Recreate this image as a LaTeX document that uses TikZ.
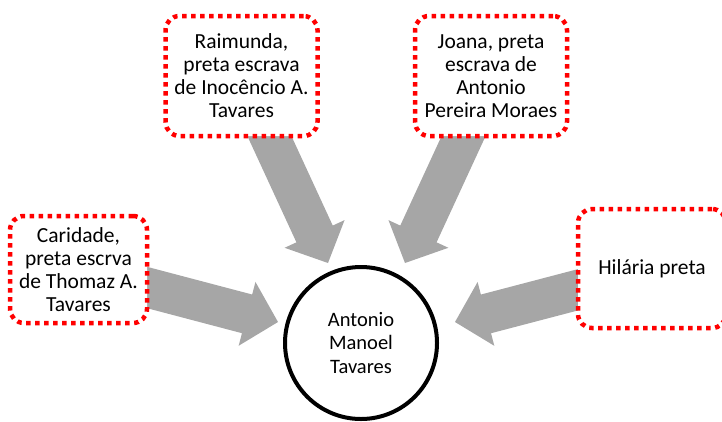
\documentclass[tikz,border=0pt]{standalone}
\usepackage{fontspec}
\setmainfont{Carlito}
\usetikzlibrary{calc}
\definecolor{arrowgray}{HTML}{A6A6A6}
\definecolor{boxred}{HTML}{FF0000}
\newcommand\blockarr[2]{%
  \path ($(#2)!32pt!(#1)$) coordinate (hb);
  \fill[arrowgray] ($(#1)!20pt!90:(#2)$) -- ($(hb)!20pt!90:(#2)$) -- ($(hb)!33pt!90:(#2)$) -- (#2)
    -- ($(hb)!33pt!-90:(#2)$) -- ($(hb)!20pt!-90:(#2)$) -- ($(#1)!20pt!-90:(#2)$) -- cycle;
}
\begin{document}
\begin{tikzpicture}[x=1pt,y=-1pt,
  srcbox/.style={draw=boxred, line width=4.5pt, dash pattern=on 4.5pt off 4.5pt,
    rounded corners=14pt, fill=white, align=center, inner sep=0pt,
    font=\fontsize{21.5}{23}\selectfont},
  person/.style={circle, draw=black, line width=4pt, fill=white, align=center,
    minimum size=152pt, inner sep=0pt, font=\fontsize{20.5}{23.5}\selectfont}]
\useasboundingbox (0,0) rectangle (722,421);
% arrow tails and tips
\coordinate (tR) at (262,120);  \coordinate (pR) at (328,263);
\coordinate (tJ) at (471,120);  \coordinate (pJ) at (405,263);
\coordinate (tC) at (130,283);  \coordinate (pC) at (278,322);
\coordinate (tH) at (600,284);  \coordinate (pH) at (455,322);
\blockarr{tR}{pR}
\blockarr{tJ}{pJ}
\blockarr{tC}{pC}
\blockarr{tH}{pH}
% boxes
\node[srcbox, minimum width=152pt, minimum height=120pt] (raim) at (241.5,76)
  {Raimunda,\\preta escrava\\de Inocêncio A.\\Tavares};
\node[srcbox, minimum width=152pt, minimum height=120pt] (joana) at (491,76)
  {Joana, preta\\escrava de\\Antonio\\Pereira Moraes};
\node[srcbox, minimum width=137pt, minimum height=107pt] (carid) at (78.5,269.5)
  {Caridade,\\preta escrva\\de Thomaz A.\\Tavares};
\node[srcbox, minimum width=148pt, minimum height=119pt] (hil) at (652,268.5)
  {Hilária preta};
\node[person] (ant) at (361,343) {Antonio\\Manoel\\Tavares};
\end{tikzpicture}
\end{document}
